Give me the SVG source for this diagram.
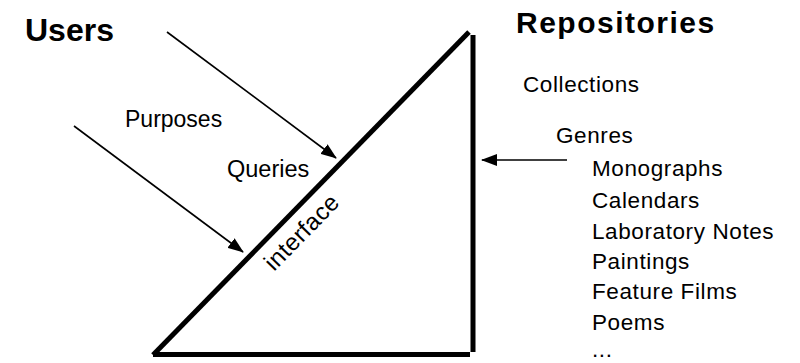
<svg xmlns="http://www.w3.org/2000/svg" width="800" height="363" viewBox="0 0 800 363">
<style>
.title{font-family:"Liberation Sans",Arial,sans-serif;font-weight:bold;fill:#000}
.lbl{font-family:"Liberation Sans",Arial,sans-serif;font-size:22px;fill:#000}
.item{font-family:"Liberation Sans",Arial,sans-serif;font-size:22.5px;letter-spacing:0.6px;fill:#000}
.thick{stroke:#000;stroke-width:5;fill:none}
.arrow{stroke:#000;stroke-width:1.6;fill:none;marker-end:url(#ah)}
</style>
<defs>
<marker id="ah" markerWidth="16" markerHeight="12" refX="15" refY="6" orient="auto" markerUnits="userSpaceOnUse">
<path d="M0,0 L16,6 L0,12 Z" fill="#000"/>
</marker>
</defs>
<rect width="800" height="363" fill="#fff"/>
<g id="interface">
<line class="thick" x1="153" y1="355" x2="469" y2="32"/>
<line class="thick" x1="473" y1="35" x2="473" y2="352"/>
<line class="thick" x1="153" y1="354.5" x2="470" y2="354.5"/>
<text class="lbl" x="274" y="272" transform="rotate(-45.6 274 272)" style="font-size:24px;letter-spacing:0.4px">interface</text>
</g>
<g id="users">
<text class="title" x="25" y="41" font-size="32">Users</text>
<text class="lbl" x="125" y="127" style="font-size:23px">Purposes</text>
<text class="lbl" x="227" y="177" style="font-size:23.5px">Queries</text>
</g>
<g id="repositories">
<text class="title" x="516" y="33" font-size="30" letter-spacing="1.5">Repositories</text>
<text class="item" x="523" y="92">Collections</text>
<text class="item" x="556" y="143">Genres</text>
<text class="item" x="592" y="176">Monographs</text>
<text class="item" x="592" y="208">Calendars</text>
<text class="item" x="592" y="239">Laboratory Notes</text>
<text class="item" x="592" y="269">Paintings</text>
<text class="item" x="592" y="299">Feature Films</text>
<text class="item" x="592" y="330">Poems</text>
<text class="item" x="592" y="357">...</text>
</g>
<g id="connectors">
<line class="arrow" x1="167" y1="32" x2="336" y2="158"/>
<line class="arrow" x1="74" y1="126" x2="243" y2="252"/>
<line class="arrow" x1="567" y1="160" x2="482" y2="160"/>
</g>
</svg>
